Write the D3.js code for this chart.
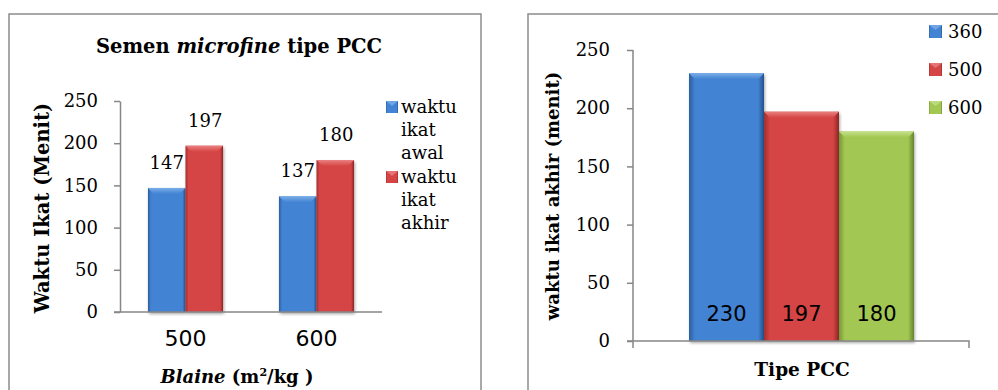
<!DOCTYPE html>
<html><head><meta charset="utf-8">
<script src="https://cdn.jsdelivr.net/npm/d3@7"></script>
<style>
body{margin:0;background:#fff;}
svg{display:block;}
</style>
</head><body>
<svg id="c" width="998" height="390"></svg>
<script>
// ---- Data: left chart ----
const leftCategories = ["500", "600"];
const leftSeries = ["waktu ikat awal", "waktu ikat akhir"];
const leftAwal = [147, 137];
const leftAkhir = [197, 180];
const leftTicks = [0, 50, 100, 150, 200, 250];
// ---- Data: right chart ----
const rightCategory = ["Tipe PCC"];
const rightSeries = ["360", "500", "600"];
const rightValues = [230, 197, 180];
const rightTicks = [0, 50, 100, 150, 200, 250];

const svg = d3.select("#c");
const SERIF = "'DejaVu Serif','Liberation Serif',serif";
const SANS = "'DejaVu Sans',Verdana,sans-serif";
const AXIS = "#868686";

const pal = {
  blue: {edge:"#2c5d9c", mid:"#4283d3", top:"#7aaee8", dark:"#24508a"},
  red: {edge:"#a22e2e", mid:"#d64545", top:"#ea8080", dark:"#8c2626"},
  green:{edge:"#76963a", mid:"#a2c853", top:"#c4e08a", dark:"#66832f"}
};
const defs = svg.append("defs");
Object.entries(pal).forEach(([k,c])=>{
  const g = defs.append("linearGradient").attr("id","g-"+k).attr("x1","0").attr("x2","1").attr("y1","0").attr("y2","0");
  g.append("stop").attr("offset","0").attr("stop-color",c.edge);
  g.append("stop").attr("offset","0.08").attr("stop-color",c.mid);
  g.append("stop").attr("offset","0.92").attr("stop-color",c.mid);
  g.append("stop").attr("offset","1").attr("stop-color",c.dark);
  const t = defs.append("linearGradient").attr("id","t-"+k).attr("x1","0").attr("x2","0").attr("y1","0").attr("y2","1");
  t.append("stop").attr("offset","0").attr("stop-color",c.top);
  t.append("stop").attr("offset","1").attr("stop-color",c.mid);
});
const sh = defs.append("filter").attr("id","sh").attr("x","-20%").attr("y","-10%").attr("width","140%").attr("height","130%");
sh.append("feGaussianBlur").attr("in","SourceAlpha").attr("stdDeviation","1.5");
sh.append("feOffset").attr("dx","1").attr("dy","1.5").attr("result","b");
sh.append("feComponentTransfer").append("feFuncA").attr("type","linear").attr("slope","0.35");
const mg = sh.append("feMerge"); mg.append("feMergeNode"); mg.append("feMergeNode").attr("in","SourceGraphic");

function bevelBar(g, x, y, w, base, color){
  const b = Math.min(6, w/6, (base-y)/3);
  const grp = g.append("g").attr("filter","url(#sh)");
  grp.append("rect").attr("x",x).attr("y",y).attr("width",w).attr("height",base-y)
    .attr("fill","url(#g-"+color+")");
  grp.append("polygon")
    .attr("points",[[x,y],[x+w,y],[x+w-b,y+b],[x+b,y+b]].map(p=>p.join(",")).join(" "))
    .attr("fill","url(#t-"+color+")");
}
function txt(sel, family, size, weight){
  return sel.style("font-family",family).style("font-size",size+"px")
    .style("font-weight",weight||"normal").attr("fill","#000");
}

// ---- Panel frames ----
svg.append("rect").attr("x",9).attr("y",14).attr("width",472).attr("height",400)
  .attr("fill","#fff").attr("stroke","#8c8c8c").attr("stroke-width",1.5);
svg.append("rect").attr("x",528).attr("y",14).attr("width",480).attr("height",400)
  .attr("fill","#fff").attr("stroke","#8c8c8c").attr("stroke-width",1.5);

// ================= LEFT CHART =================
{
  const L = svg.append("g");
  const y = d3.scaleLinear().domain([0,250]).range([312,101]);
  const x0 = d3.scaleBand().domain(leftCategories).range([120,382]).paddingInner(0.427).paddingOuter(0.2135);
  const x1 = d3.scaleBand().domain(leftSeries).range([0,x0.bandwidth()]);
  const colors = ["blue","red"];
  const vals = [leftAwal, leftAkhir];

  const ya = L.append("g").attr("transform","translate(120,0)")
    .call(d3.axisLeft(y).tickValues(leftTicks).tickSize(6).tickSizeOuter(0).tickPadding(16));
  ya.select(".domain").attr("stroke",AXIS).attr("stroke-width",1.5);
  ya.selectAll(".tick line").attr("stroke",AXIS).attr("stroke-width",1.5);
  txt(ya.selectAll(".tick text"), SERIF, 18);

  leftCategories.forEach((c,i)=>{
    leftSeries.forEach((s,j)=>{
      bevelBar(L, x0(c)+x1(s), y(vals[j][i]), x1.bandwidth(), y(0), colors[j]);
    });
  });
  const xa = L.append("g").attr("transform","translate(0,312)")
    .call(d3.axisBottom(x0).tickSize(0).tickPadding(18));
  xa.select(".domain").attr("stroke",AXIS).attr("stroke-width",1.5).attr("d","M114,0H382");
  txt(xa.selectAll(".tick text"), SANS, 22);

  leftCategories.forEach((c,i)=>{
    leftSeries.forEach((s,j)=>{
      const v = vals[j][i];
      txt(L.append("text"), SERIF, 18)
        .attr("x",x0(c)+x1(s)+x1.bandwidth()/2 + (j===0?0:1)).attr("y",y(v)-19)
        .attr("text-anchor","middle").text(v);
    });
  });

  const t = txt(L.append("text"), SERIF, 19.5, "bold").attr("x",239).attr("y",53).attr("text-anchor","middle");
  t.append("tspan").text("Semen ");
  t.append("tspan").style("font-style","italic").text("microfine");
  t.append("tspan").text(" tipe PCC");

  txt(L.append("text"), SERIF, 19.5, "bold")
    .attr("transform","translate(49,208) rotate(-90)").attr("text-anchor","middle")
    .text("Waktu Ikat (Menit)");
  const xt = txt(L.append("text"), SERIF, 18, "bold").attr("x",237).attr("y",383).attr("text-anchor","middle");
  xt.append("tspan").style("font-style","italic").text("Blaine");
  xt.append("tspan").text(" (m");
  xt.append("tspan").style("font-size","11px").attr("dy",-7).text("2");
  xt.append("tspan").attr("dy",7).text("/kg )");

  const legLines = [["waktu","ikat","awal"],["waktu","ikat","akhir"]];
  leftSeries.forEach((s,j)=>{
    const top = 101 + j*70;
    L.append("rect").attr("x",386).attr("y",top).attr("width",12).attr("height",12)
      .attr("fill","url(#g-"+colors[j]+")");
    L.append("polygon").attr("points",`386,${top} 398,${top} 392,${top+5}`).attr("fill",pal[colors[j]].top).attr("opacity",0.8);
    legLines[j].forEach((w,k)=>{
      txt(L.append("text"), SERIF, 18).attr("x",401).attr("y",top+12+k*23).text(w);
    });
  });
}

// ================= RIGHT CHART =================
{
  const R = svg.append("g");
  const y = d3.scaleLinear().domain([0,250]).range([341,50]);
  const x0 = d3.scaleBand().domain(rightCategory).range([633,970]).paddingInner(0).paddingOuter(0.249);
  const x1 = d3.scaleBand().domain(rightSeries).range([0,x0.bandwidth()]);
  const colors = ["blue","red","green"];

  const ya = R.append("g").attr("transform","translate(633,0)")
    .call(d3.axisLeft(y).tickValues(rightTicks).tickSize(6).tickSizeOuter(0).tickPadding(17));
  ya.select(".domain").attr("stroke",AXIS).attr("stroke-width",1.5).attr("d","M0,50V348");
  ya.selectAll(".tick line").attr("stroke",AXIS).attr("stroke-width",1.5);
  txt(ya.selectAll(".tick text"), SERIF, 18);

  rightSeries.forEach((s,j)=>{
    bevelBar(R, x0(rightCategory[0])+x1(s), y(rightValues[j]), x1.bandwidth(), y(0), colors[j]);
  });

  const xa = R.append("g").attr("transform","translate(0,341)")
    .call(d3.axisBottom(x0).tickSize(0).tickFormat(""));
  xa.select(".domain").attr("stroke",AXIS).attr("stroke-width",1.5).attr("d","M627,0H969V7");

  rightSeries.forEach((s,j)=>{
    txt(R.append("text"), SANS, 21)
      .attr("x",x0(rightCategory[0])+x1(s)+x1.bandwidth()/2).attr("y",321)
      .attr("text-anchor","middle").text(rightValues[j]);
  });

  txt(R.append("text"), SERIF, 18, "bold")
    .attr("transform","translate(559,196) rotate(-90)").attr("text-anchor","middle")
    .text("waktu ikat akhir (menit)");
  txt(R.append("text"), SERIF, 18.5, "bold").attr("x",802).attr("y",376).attr("text-anchor","middle")
    .text(rightCategory[0]);

  rightSeries.forEach((s,j)=>{
    const top = 25 + j*38;
    R.append("rect").attr("x",929).attr("y",top).attr("width",13).attr("height",13)
      .attr("fill","url(#g-"+colors[j]+")");
    R.append("polygon").attr("points",`929,${top} 942,${top} 935.5,${top+5}`).attr("fill",pal[colors[j]].top).attr("opacity",0.8);
    txt(R.append("text"), SERIF, 18).attr("x",948).attr("y",top+13).text(s);
  });
}
</script>
</body></html>
